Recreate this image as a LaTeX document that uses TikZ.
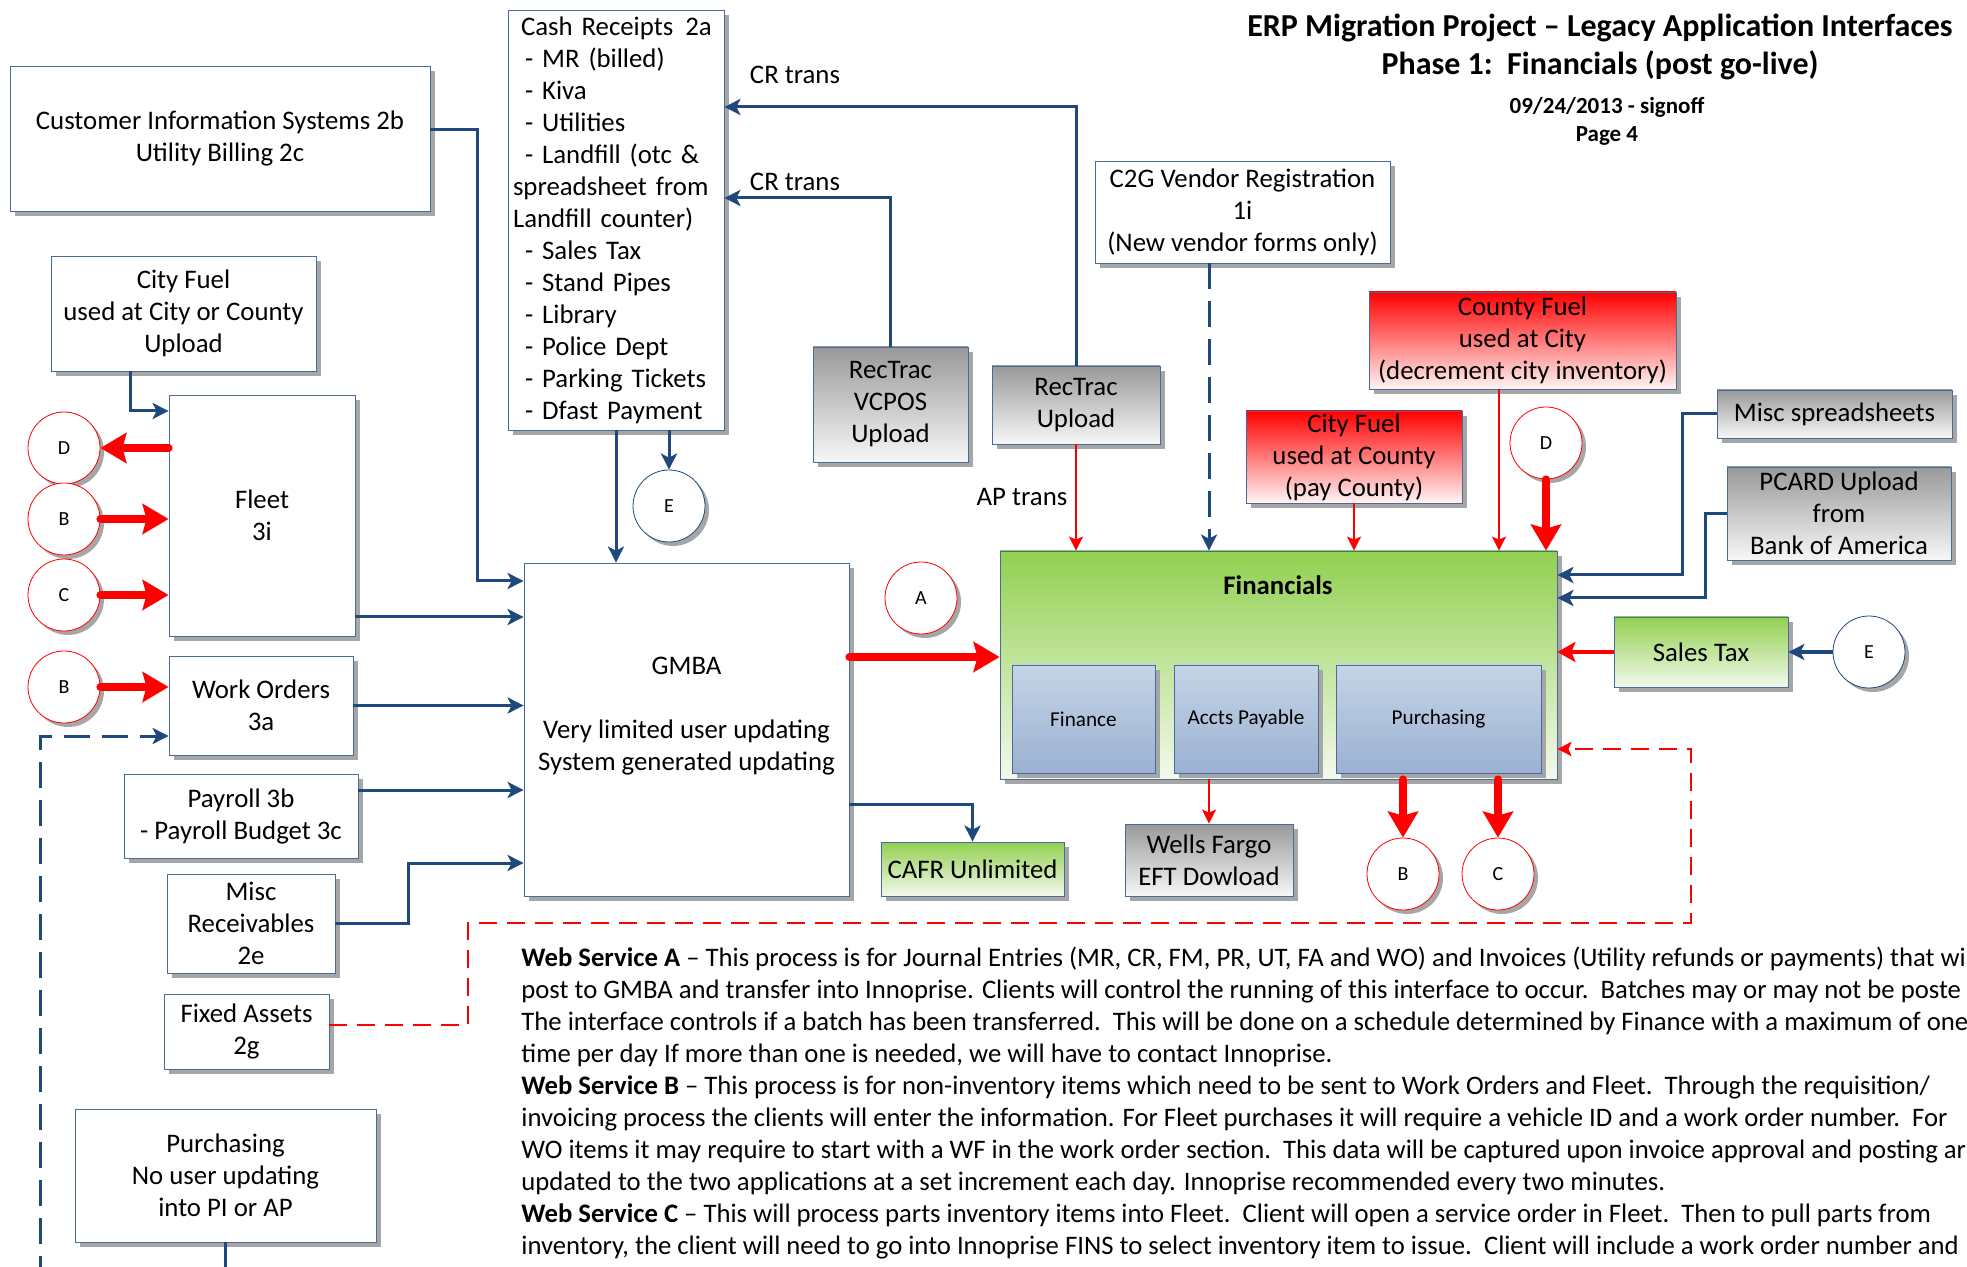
\documentclass[tikz,border=0pt]{standalone}
\usepackage{fontspec}
\setmainfont{Carlito}
\usetikzlibrary{arrows.meta,shadows}

\definecolor{navy}{HTML}{1F497D}
\definecolor{frame}{HTML}{4A6A9C}
\definecolor{shade}{HTML}{A6A6A6}
\definecolor{leaf}{HTML}{92D050}
\definecolor{leaflight}{HTML}{F3F9EC}
\definecolor{steel}{HTML}{C5D4E6}
\definecolor{steeldark}{HTML}{9BB1D2}

\tikzset{
    box/.style={draw=frame, fill=white, inner sep=0pt, align=center,
        font=\fontsize{13.4}{16}\selectfont,
        drop shadow={shadow xshift=2.5pt, shadow yshift=-2.5pt, opacity=1, fill=shade}},
    spot/.style args={#1/#2/#3/#4}{at={({(#1+#3)/2},{(#2+#4)/2})},
        minimum width={(#3-#1)*0.5pt}, minimum height={(#4-#2)*0.5pt}},
    graybox/.style={box, top color=black!40, bottom color=black!3},
    redbox/.style={box, top color=red, bottom color=red!4},
    greenbox/.style={box, top color=leaf, bottom color=leaflight},
    subbox/.style={box, top color=steel, bottom color=steeldark,
        font=\fontsize{10.6}{13}\selectfont},
    redring/.style={circle, draw=red, fill=white, minimum size=36pt, inner sep=0pt,
        font=\fontsize{10}{12}\selectfont,
        drop shadow={shadow xshift=2pt, shadow yshift=-2pt, opacity=1, fill=shade}},
    bluering/.style={redring, draw=navy},
    lbl/.style={font=\fontsize{13.4}{16}\selectfont, inner sep=0pt},
    link/.style={draw=navy, line width=1.5pt, -{Stealth[length=8pt,width=8pt,inset=2pt]}},
    linkdash/.style={link, dash pattern=on 13pt off 6pt},
    bigred/.style={draw=red, line width=4pt, line cap=round,
        -{Stealth[length=13pt,width=15pt,inset=2pt]}},
    thinred/.style={draw=red, line width=1pt, -{Stealth[length=7pt,width=7pt,inset=1.5pt]}},
    midred/.style={draw=red, line width=1.7pt, -{Stealth[length=9pt,width=10pt,inset=2pt]}},
    reddash/.style={thinred, line width=1.4pt, dash pattern=on 9pt off 5pt}
}

\begin{document}
\begin{tikzpicture}[x=0.5pt,y=-0.5pt]
    \path[use as bounding box, clip] (0,0) rectangle (1967,1267);

    \node[font=\fontsize{16}{19}\bfseries, align=center] (title) at (1600,47)
        {ERP Migration Project – Legacy Application Interfaces\\Phase 1:\ \ Financials (post go-live)};
    \node[font=\fontsize{11.5}{14}\bfseries, align=center] (date) at (1607,121)
        {09/24/2013 - signoff\\Page 4};

    \node[box, spot=10/66/430/211] (cis) {Customer Information Systems 2b\\Utility Billing 2c};
    \node[box, spot=508/10/724/430, align=left, text width=103pt] (cash) {\hspace*{4pt}Cash Receipts\hspace{6pt}2a\\
        \hspace*{6pt}- MR (billed)\\\hspace*{6pt}- Kiva\\\hspace*{6pt}- Utilities\\
        \hspace*{6pt}- Landfill (otc \&\\spreadsheet from\\Landfill counter)\\
        \hspace*{6pt}- Sales Tax\\\hspace*{6pt}- Stand Pipes\\\hspace*{6pt}- Library\\
        \hspace*{6pt}- Police Dept\\\hspace*{6pt}- Parking Tickets\\\hspace*{6pt}- Dfast Payment};
    \node[box, spot=51/256/316/371] (cityfuel) {City Fuel\\used at City or County\\Upload};
    \node[box, spot=169/395/355/636] (fleet) {Fleet\\3i};
    \node[box, spot=169/656/353/755] (wo) {Work Orders\\3a};
    \node[box, spot=124/774/358/858] (payroll) {Payroll 3b\\- Payroll Budget 3c};
    \node[box, spot=167/874/335/973] (miscrec) {Misc\\Receivables\\2e};
    \node[box, spot=164/994/329/1069] (fa) {Fixed Assets\\2g};
    \node[box, spot=75/1109/376/1242] (purch) {Purchasing\\No user updating\\into PI or AP};
    \node[box, spot=524/563/849/896] (gmba) {GMBA\\~\\Very limited user updating\\System generated updating\\~};
    \node[graybox, spot=813/347/968/462] (vcpos) {RecTrac\\VCPOS\\Upload};
    \node[graybox, spot=992/366/1160/444] (upload) {RecTrac\\Upload};
    \node[box, spot=1095/161/1390/263] (c2g) {C2G Vendor Registration\\1i\\(New vendor forms only)};
    \node[redbox, spot=1369/292/1676/389] (countyfuel) {County Fuel\\used at City\\(decrement city inventory)};
    \node[redbox, spot=1246/411/1462/503] (cityfuelc) {City Fuel\\used at County\\(pay County)};
    \node[graybox, spot=1717/390/1952/438] (miscs) {Misc spreadsheets};
    \node[graybox, spot=1727/467/1951/560] (pcard) {PCARD Upload\\from\\Bank of America};
    \node[greenbox, spot=1000/551/1557/779] (fin) {};
    \node[font=\fontsize{13.4}{16}\bfseries] (finlbl) at (1278,585) {Financials};
    \node[subbox, spot=1012/665/1155/773] (finance) {Finance};
    \node[subbox, spot=1174/665/1318/773] (ap) {Accts Payable};
    \node[subbox, spot=1336/665/1541/773] (purchsub) {Purchasing};
    \node[greenbox, spot=1614/617/1788/687] (stax) {Sales Tax};
    \node[greenbox, spot=881/842/1064/896] (cafr) {CAFR Unlimited};
    \node[graybox, spot=1125/824/1293/896] (wf) {Wells Fargo\\EFT Dowload};

    \node[redring] (d1) at (64,448) {D};
    \node[redring] (b1) at (64,519) {B};
    \node[redring] (c1) at (64,595) {C};
    \node[redring] (b2) at (64,687) {B};
    \node[bluering] (e1) at (669,506) {E};
    \node[redring] (a1) at (921,598) {A};
    \node[redring] (d2) at (1546,443) {D};
    \node[bluering] (e2) at (1869,652) {E};
    \node[redring] (b3) at (1403,874) {B};
    \node[redring] (c3) at (1498,874) {C};

    \node[lbl] (cr1) at (795,75) {CR trans};
    \node[lbl] (cr2) at (795,182) {CR trans};
    \node[lbl] (aptr) at (1022,497) {AP trans};

    \draw[link] (cis.east |- 0,130) -| (477,581) -- (gmba.west |- 0,581);
    \draw[link] (cash.south -| 616,0) -- (gmba.north -| 616,0);
    \draw[link] (cash.south -| e1) -- (e1.north);
    \draw[link] (vcpos.north) |- (cash.east |- 0,198);
    \draw[link] (upload.north) |- (cash.east |- 0,107);
    \draw[link] (cityfuel.south -| 130,0) |- (fleet.west |- 0,411);
    \draw[link] (fleet.east |- 0,617) -- (gmba.west |- 0,617);
    \draw[link] (wo.east) -- (wo.east -| gmba.west);
    \draw[link] (payroll.east |- 0,790) -- (gmba.west |- 0,790);
    \draw[link] (miscrec.east) -| (408,863) -- (gmba.west |- 0,863);
    \draw[link] (gmba.east |- 0,804) -| (cafr.north);
    \draw[link] (miscs.west) -| (1682,575) -- (fin.east |- 0,575);
    \draw[link] (pcard.west) -| (1705,598) -- (fin.east |- 0,598);
    \draw[link, line width=1.8pt] (e2.west) -- (stax.east);
    \draw[linkdash] (c2g.south -| 1209,0) -- (fin.north -| 1209,0);
    \draw[linkdash] (purch.south) -- ++(0,60) -| (40,736) -- (wo.west |- 0,736);

    \draw[bigred] (d1.east -| fleet.west) -- (d1.east);
    \draw[bigred] (b1.east) -- (b1.east -| fleet.west);
    \draw[bigred] (c1.east) -- (c1.east -| fleet.west);
    \draw[bigred] (b2.east) -- (b2.east -| wo.west);
    \draw[bigred] (gmba.east |- 0,657) -- (fin.west |- 0,657);
    \draw[bigred] (d2.south) -- (d2.south |- fin.north);
    \draw[bigred] (b3.north |- fin.south) -- (b3.north);
    \draw[bigred] (c3.north |- fin.south) -- (c3.north);

    \draw[thinred] (upload.south) -- (upload.south |- fin.north);
    \draw[thinred] (cityfuelc.south) -- (cityfuelc.south |- fin.north);
    \draw[thinred] (countyfuel.south -| 1499,0) -- (fin.north -| 1499,0);
    \draw[thinred] (wf.north |- fin.south) -- (wf.north);
    \draw[midred] (stax.west) -- (stax.west -| fin.east);
    \draw[reddash] (fa.east |- 0,1025) -| (468,923) -| (1691,749) -- (fin.east |- 0,749);

    \node[anchor=north west, align=left, inner sep=0pt, font=\fontsize{13.35}{16}\selectfont] (notes) at (521,947)
        {\textbf{Web Service A} – This process is for Journal Entries (MR, CR, FM, PR, UT, FA and WO) and Invoices (Utility refunds or payments) that wi\\
        post to GMBA and transfer into Innoprise. Clients will control the running of this interface to occur.\ \ Batches may or may not be poste\\
        The interface controls if a batch has been transferred.\ \ This will be done on a schedule determined by Finance with a maximum of one\\
        time per day If more than one is needed, we will have to contact Innoprise.\\
        \textbf{Web Service B} – This process is for non-inventory items which need to be sent to Work Orders and Fleet.\ \ Through the requisition/\\
        invoicing process the clients will enter the information. For Fleet purchases it will require a vehicle ID and a work order number.\ \ For\\
        WO items it may require to start with a WF in the work order section.\ \ This data will be captured upon invoice approval and posting ar\\
        updated to the two applications at a set increment each day. Innoprise recommended every two minutes.\\
        \textbf{Web Service C} – This will process parts inventory items into Fleet.\ \ Client will open a service order in Fleet.\ \ Then to pull parts from\\
        inventory, the client will need to go into Innoprise FINS to select inventory item to issue.\ \ Client will include a work order number and};
\end{tikzpicture}
\end{document}
